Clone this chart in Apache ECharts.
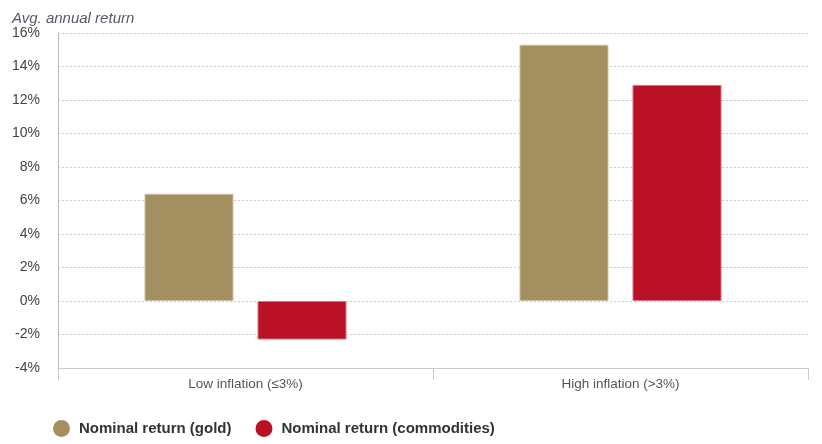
<!DOCTYPE html>
<html><head><meta charset="utf-8">
<script src="https://cdn.jsdelivr.net/npm/echarts@6/dist/echarts.min.js"></script>
<style>html,body{margin:0;padding:0;background:#fff}#c{width:822px;height:444px}</style>
</head><body><div id="c"></div>
<script>
const categories = ['Low inflation (≤3%)', 'High inflation (>3%)'];
const seriesNames = ['Nominal return (gold)', 'Nominal return (commodities)'];
const goldValues = [6.4, 15.3];
const commodityValues = [-2.3, 12.9];
const yTicks = [-4, -2, 0, 2, 4, 6, 8, 10, 12, 14, 16];
const colors = ['#A48F60', '#BA1127'];

const chart = echarts.init(document.getElementById('c'), null, {renderer: 'canvas'});
chart.setOption({
  animation: false,
  textStyle: {fontFamily: 'Liberation Sans, Arial, sans-serif'},
  title: {
    text: 'Avg. annual return', left: 7, top: 6,
    textStyle: {fontSize: 15, fontStyle: 'italic', fontWeight: 'normal', color: '#555a66'}
  },
  legend: {
    left: 48, top: 415, itemGap: 24, icon: 'circle', itemWidth: 17, itemHeight: 17,
    textStyle: {fontSize: 15, fontWeight: 'bold', color: '#333', padding: [0, 0, 0, 4]},
    itemStyle: {borderWidth: 0},
    data: seriesNames
  },
  grid: {left: 58, right: 14, top: 33, bottom: 76, containLabel: false},
  xAxis: {
    type: 'category', data: categories,
    axisLine: {onZero: false, lineStyle: {color: '#ccc'}},
    axisTick: {show: true, length: 12, lineStyle: {color: '#ccc'}},
    axisLabel: {fontSize: 13.5, color: '#555', margin: 9}
  },
  yAxis: {
    type: 'value', min: yTicks[0], max: yTicks[yTicks.length - 1], interval: 2,
    axisLine: {show: true, lineStyle: {color: '#bbb'}},
    axisTick: {show: false},
    axisLabel: {fontSize: 14, color: '#444', margin: 18, formatter: v => v + '%'},
    splitLine: {lineStyle: {color: '#ccc', type: [2, 2]}}
  },
  series: [
    {name: seriesNames[0], type: 'bar', data: goldValues, barWidth: 89, barGap: '27%',
     itemStyle: {color: colors[0], borderColor: '#cdbf9f', borderWidth: 1}},
    {name: seriesNames[1], type: 'bar', data: commodityValues, barWidth: 89,
     itemStyle: {color: colors[1], borderColor: '#d9707e', borderWidth: 1}}
  ]
});
</script></body></html>
